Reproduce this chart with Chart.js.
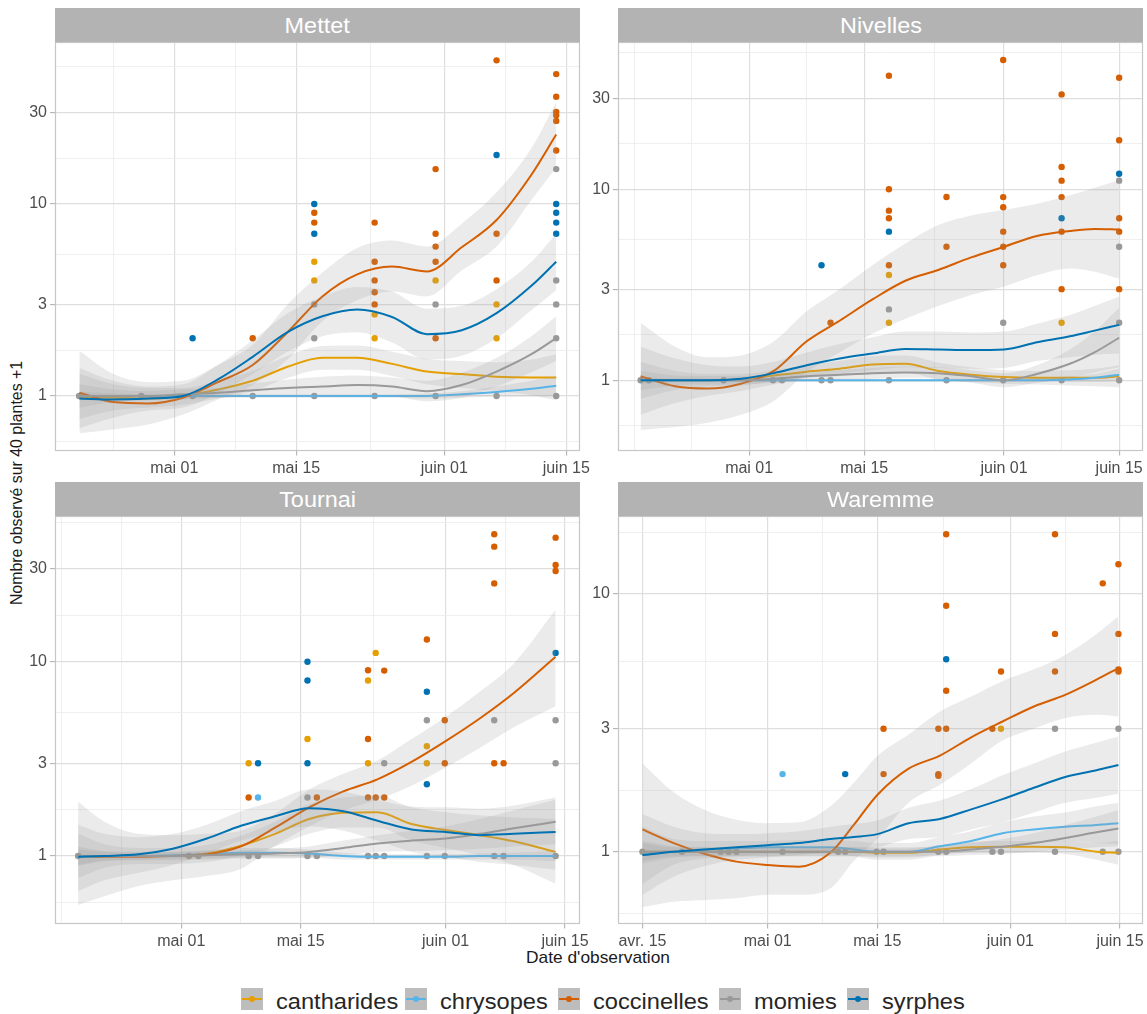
<!DOCTYPE html>
<html lang="fr">
<head>
<meta charset="utf-8">
<title>Nombre observé sur 40 plantes</title>
<script src="https://cdn.jsdelivr.net/npm/chart.js@4.4.1/dist/chart.umd.min.js"></script>
<style>
html,body{margin:0;padding:0;background:#fff;}
body{width:1147px;height:1014px;position:relative;overflow:hidden;font-family:"Liberation Sans",Arial,Helvetica,sans-serif;}
canvas{position:absolute;}
.strip{position:absolute;background:#B3B3B3;color:#fff;text-align:center;font-size:21.7px;line-height:34px;height:34px;}
.strip span{display:inline-block;position:relative;top:1px;transform:scaleX(1.08);}
#ytitle{position:absolute;left:17px;top:483px;transform:translate(-50%,-50%) rotate(-90deg);white-space:nowrap;font-size:15.9px;color:#1a1a1a;}
#xtitle{position:absolute;left:598px;top:958px;transform:translate(-50%,-50%) scaleX(1.09);white-space:nowrap;font-size:15.9px;color:#1a1a1a;}
.key{position:absolute;top:988px;width:22px;height:22px;background:#BDBDBD;}
.key .ln{position:absolute;left:1px;right:1px;top:10px;height:2px;}
.key .pt{position:absolute;left:8px;top:8px;width:6px;height:6px;border-radius:50%;}
.lbl{position:absolute;top:991px;line-height:22px;font-size:21.7px;color:#262626;white-space:nowrap;transform:scaleX(1.09);transform-origin:left center;}
</style>
</head>
<body>
<div id="ytitle">Nombre observé sur 40 plantes +1</div>
<div id="xtitle">Date d'observation</div>
<script>
// ---------------- categories / ticks ----------------
const panels = ['Mettet', 'Nivelles', 'Tournai', 'Waremme'];
const series = ['cantharides', 'chrysopes', 'coccinelles', 'momies', 'syrphes'];
// x values are days counted from 31 March (avr. 15 = 15, mai 01 = 31, ...)
const xTickDays = [15, 31, 45, 62, 76];
const xTickLabels = ['avr. 15', 'mai 01', 'mai 15', 'juin 01', 'juin 15'];
const yTickValues = [1, 3, 10, 30];
const yTickLabels = ['1', '3', '10', '30'];

// ---------------- observed points [day, count+1] ----------------
const pts_Mettet_cantharides = [[47.07,5],[47.07,4],[54,2.66],[54,2],[61,4],[68,3],[68,2]];
const pts_Mettet_chrysopes = [];
const pts_Mettet_coccinelles = [[40,2],[47.07,9],[47.07,8],[54,8],[54,5],[54,4],[54,3.47],[54,3],[61,15.2],[61,7],[61,6],[61,5],[61,2],[68,56],[68,7],[68,4],[74.85,47.5],[74.85,36.2],[74.85,30.2],[74.85,29],[74.85,27.1],[74.85,19]];
const pts_Mettet_momies = [[20.07,1],[27.2,1],[33.1,1],[40,1],[47.07,3],[47.07,2],[47.07,1],[54,1],[61,3],[61,1],[68,1],[74.85,15.2],[74.85,4],[74.85,3],[74.85,2],[74.85,1]];
const pts_Mettet_syrphes = [[33.1,2],[47.07,10],[47.07,7],[68,18],[74.85,10],[74.85,9],[74.85,8],[74.85,7]];

const pts_Nivelles_cantharides = [[48,3.56],[48,2],[69,2]];
const pts_Nivelles_chrysopes = [];
const pts_Nivelles_coccinelles = [[40.9,2],[48,39.3],[48,10],[48,7.73],[48,7.05],[48,4],[55,9.12],[55,5],[61.9,47.5],[61.9,9.1],[61.9,8.05],[61.9,6],[61.9,5],[61.9,4],[69,31.4],[69,13.1],[69,11.1],[69,9.1],[69,6],[69,3],[76,38.4],[76,18.05],[76,7.05],[76,6],[76,3]];
const pts_Nivelles_momies = [[17.8,1],[18.8,1],[27.9,1],[33.9,1],[35,1],[39.8,1],[40.9,1],[48,2.35],[48,1],[55,1],[61.9,2],[61.9,1],[69,1],[76,11.1],[76,5],[76,2],[76,1]];
const pts_Nivelles_syrphes = [[39.8,4],[48,6],[69,7.05],[76,12.07]];

const pts_Tournai_cantharides = [[38.9,3],[45.8,4],[52.9,8],[52.9,3],[53.8,11.1],[59.8,3.67],[59.8,3]];
const pts_Tournai_chrysopes = [[40,2]];
const pts_Tournai_coccinelles = [[38.9,2],[46.9,2],[52.9,9.03],[52.9,4],[52.9,2],[53.8,2],[54.8,9],[54.8,2],[59.8,13],[61.9,5],[61.9,3],[67.7,45.3],[67.7,39.1],[67.7,25.3],[67.7,3],[68.8,3],[74.9,43.5],[74.9,31.5],[74.9,29.3]];
const pts_Tournai_momies = [[18.9,1],[31.9,1],[33,1],[38.9,1],[40,1],[45.8,2],[45.8,1],[46.9,1],[52.9,1],[53.8,1],[54.8,3],[54.8,1],[59.8,5],[59.8,1],[61.9,1],[67.7,5],[67.7,1],[68.8,1],[74.9,5],[74.9,3],[74.9,1]];
const pts_Tournai_syrphes = [[40,3],[45.8,10],[45.8,8],[45.8,3],[59.8,7],[59.8,2.34],[74.9,11.1]];

const pts_Waremme_cantharides = [[60.8,3]];
const pts_Waremme_chrysopes = [[32.9,2]];
const pts_Waremme_coccinelles = [[45.8,3],[45.8,2],[52.8,3],[52.8,2],[52.8,1.97],[53.8,17.05],[53.8,9],[53.8,4.21],[53.8,3],[59.7,3],[60.8,5],[67.7,17.05],[67.7,7],[67.7,5],[73.8,11],[75.8,13.04],[75.8,7],[75.8,5.1],[75.8,5]];
const pts_Waremme_momies = [[15,1],[20.05,1],[25,1],[26,1],[27,1],[32.9,1],[40,1],[40.9,1],[44.9,1],[45.8,1],[52.8,1],[53.8,1],[59.7,1],[60.8,1],[67.7,3],[67.7,1],[73.8,1],[75.8,3],[75.8,1]];
const pts_Waremme_syrphes = [[40.9,2],[53.8,5.58]];

// ---------------- smoothed curves (fit, lower, upper) ----------------
const fitDays_Mettet = [20.1, 24, 28, 32, 36, 40, 44, 48, 52, 56, 60, 64, 68, 72, 74.85];
const fit_Mettet_coccinelles = [1.04, 0.93, 0.915, 0.98, 1.18, 1.45, 2.15, 3.3, 4.3, 4.72, 4.45, 5.95, 8.25, 14.2, 23];
const hi_Mettet_coccinelles  = [1.72, 1.3, 1.18, 1.2, 1.45, 1.85, 3.0, 4.4, 5.9, 6.45, 6.0, 7.9, 11.5, 19.5, 34];
const lo_Mettet_coccinelles  = [0.64, 0.67, 0.71, 0.8, 0.96, 1.14, 1.55, 2.45, 3.15, 3.5, 3.3, 4.5, 6.0, 10.5, 15.5];
const fit_Mettet_syrphes = [0.97, 0.96, 0.97, 1.0, 1.22, 1.6, 2.15, 2.6, 2.82, 2.58, 2.1, 2.2, 2.7, 3.75, 5.0];
const hi_Mettet_syrphes  = [1.4, 1.2, 1.12, 1.15, 1.45, 1.95, 2.7, 3.3, 3.7, 3.5, 2.85, 2.95, 3.6, 5.0, 7.0];
const lo_Mettet_syrphes  = [0.68, 0.77, 0.84, 0.87, 1.03, 1.3, 1.7, 2.05, 2.15, 1.9, 1.55, 1.62, 2.0, 2.8, 3.55];
const fit_Mettet_cantharides = [0.99, 0.98, 0.97, 1.0, 1.08, 1.2, 1.42, 1.58, 1.58, 1.47, 1.34, 1.3, 1.26, 1.25, 1.25];
const hi_Mettet_cantharides  = [1.3, 1.15, 1.1, 1.1, 1.2, 1.35, 1.62, 1.82, 1.83, 1.7, 1.56, 1.52, 1.5, 1.55, 1.65];
const lo_Mettet_cantharides  = [0.76, 0.84, 0.87, 0.9, 0.97, 1.06, 1.24, 1.37, 1.37, 1.27, 1.15, 1.1, 1.06, 1.01, 0.95];
const fit_Mettet_momies = [1.0, 1.0, 1.0, 1.02, 1.04, 1.07, 1.1, 1.12, 1.14, 1.12, 1.06, 1.14, 1.34, 1.65, 2.0];
const hi_Mettet_momies  = [1.15, 1.08, 1.06, 1.08, 1.1, 1.16, 1.22, 1.26, 1.28, 1.25, 1.2, 1.32, 1.58, 2.05, 2.6];
const lo_Mettet_momies  = [0.87, 0.93, 0.95, 0.96, 0.98, 0.99, 1.0, 1.0, 1.01, 1.0, 0.94, 0.98, 1.12, 1.33, 1.52];
const fit_Mettet_chrysopes = [1.0, 1.0, 1.0, 1.0, 1.0, 1.0, 1.0, 1.0, 1.0, 1.0, 1.0, 1.02, 1.05, 1.09, 1.13];
const hi_Mettet_chrysopes  = [1.05, 1.03, 1.02, 1.02, 1.02, 1.02, 1.02, 1.02, 1.02, 1.02, 1.03, 1.06, 1.12, 1.2, 1.27];
const lo_Mettet_chrysopes  = [0.95, 0.97, 0.98, 0.98, 0.98, 0.98, 0.98, 0.98, 0.98, 0.98, 0.97, 0.98, 0.99, 0.99, 1.0];

const fitDays_Nivelles = [17.8, 22, 26, 30, 34, 38, 42, 46, 50, 54, 58, 62, 66, 70, 73, 76];
const fit_Nivelles_coccinelles = [1.05, 0.93, 0.905, 0.96, 1.12, 1.6, 2.05, 2.65, 3.32, 3.78, 4.4, 5.0, 5.7, 6.05, 6.2, 6.15];
const hi_Nivelles_coccinelles  = [2.0, 1.5, 1.32, 1.35, 1.6, 2.3, 3.0, 4.0, 5.2, 6.5, 7.3, 7.8, 8.4, 9.3, 10.2, 11.2];
const lo_Nivelles_coccinelles  = [0.55, 0.57, 0.6, 0.66, 0.78, 1.1, 1.4, 1.75, 2.1, 2.45, 2.8, 3.1, 3.55, 3.85, 3.7, 3.4];
const fit_Nivelles_syrphes = [1.0, 1.0, 1.0, 1.02, 1.09, 1.2, 1.3, 1.38, 1.46, 1.45, 1.44, 1.45, 1.58, 1.7, 1.82, 1.95];
const hi_Nivelles_syrphes  = [1.5, 1.3, 1.2, 1.18, 1.25, 1.4, 1.55, 1.68, 1.8, 1.8, 1.78, 1.8, 1.98, 2.2, 2.45, 2.75];
const lo_Nivelles_syrphes  = [0.66, 0.76, 0.83, 0.88, 0.95, 1.03, 1.09, 1.13, 1.17, 1.16, 1.15, 1.16, 1.26, 1.32, 1.36, 1.38];
const fit_Nivelles_cantharides = [1.0, 1.0, 1.0, 1.01, 1.06, 1.11, 1.15, 1.21, 1.22, 1.12, 1.07, 1.04, 1.03, 1.03, 1.03, 1.05];
const hi_Nivelles_cantharides  = [1.25, 1.12, 1.08, 1.08, 1.13, 1.2, 1.26, 1.34, 1.35, 1.24, 1.17, 1.13, 1.12, 1.13, 1.15, 1.2];
const lo_Nivelles_cantharides  = [0.8, 0.89, 0.93, 0.94, 0.99, 1.03, 1.05, 1.09, 1.1, 1.01, 0.98, 0.96, 0.95, 0.94, 0.93, 0.92];
const fit_Nivelles_momies = [1.0, 1.0, 1.0, 1.0, 1.02, 1.05, 1.07, 1.09, 1.1, 1.09, 1.05, 1.0, 1.08, 1.22, 1.4, 1.67];
const hi_Nivelles_momies  = [1.12, 1.06, 1.05, 1.05, 1.07, 1.1, 1.13, 1.16, 1.18, 1.17, 1.13, 1.09, 1.2, 1.45, 1.8, 2.4];
const lo_Nivelles_momies  = [0.89, 0.94, 0.95, 0.95, 0.97, 1.0, 1.01, 1.02, 1.03, 1.02, 0.97, 0.92, 0.97, 1.03, 1.1, 1.17];
const fit_Nivelles_chrysopes = [1.0, 1.0, 1.0, 1.0, 1.0, 1.0, 1.0, 1.0, 1.0, 1.0, 1.0, 1.0, 1.0, 1.01, 1.03, 1.07];
const hi_Nivelles_chrysopes  = [1.04, 1.02, 1.02, 1.02, 1.02, 1.02, 1.02, 1.02, 1.02, 1.02, 1.02, 1.02, 1.03, 1.05, 1.08, 1.15];
const lo_Nivelles_chrysopes  = [0.96, 0.98, 0.98, 0.98, 0.98, 0.98, 0.98, 0.98, 0.98, 0.98, 0.98, 0.98, 0.98, 0.98, 0.98, 0.99];

const fitDays_Tournai = [18.9, 22, 26, 30, 34, 38, 42, 46, 50, 54, 58, 62, 66, 70, 74.9];
const fit_Tournai_coccinelles = [1.0, 0.99, 0.99, 1.0, 1.02, 1.12, 1.4, 1.78, 2.15, 2.48, 3.05, 3.9, 5.1, 6.9, 10.6];
const hi_Tournai_coccinelles  = [1.9, 1.5, 1.3, 1.28, 1.3, 1.35, 1.65, 2.2, 2.65, 3.1, 4.0, 5.2, 7.0, 9.8, 18.5];
const lo_Tournai_coccinelles  = [0.56, 0.62, 0.7, 0.75, 0.79, 0.86, 1.13, 1.42, 1.72, 1.95, 2.3, 2.85, 3.6, 4.6, 5.9];
const fit_Tournai_syrphes = [0.99, 1.0, 1.02, 1.09, 1.23, 1.43, 1.6, 1.76, 1.7, 1.52, 1.37, 1.33, 1.28, 1.3, 1.33];
const hi_Tournai_syrphes  = [1.45, 1.3, 1.25, 1.3, 1.45, 1.7, 1.92, 2.2, 2.15, 1.95, 1.8, 1.78, 1.75, 1.82, 2.0];
const lo_Tournai_syrphes  = [0.66, 0.75, 0.82, 0.9, 1.03, 1.2, 1.33, 1.42, 1.35, 1.2, 1.05, 0.99, 0.93, 0.9, 0.85];
const fit_Tournai_cantharides = [1.0, 1.0, 1.0, 1.0, 1.03, 1.13, 1.3, 1.55, 1.67, 1.68, 1.46, 1.36, 1.28, 1.19, 1.05];
const hi_Tournai_cantharides  = [1.3, 1.15, 1.1, 1.1, 1.14, 1.27, 1.5, 1.85, 2.0, 2.05, 1.78, 1.68, 1.62, 1.58, 1.55];
const lo_Tournai_cantharides  = [0.77, 0.87, 0.91, 0.91, 0.93, 1.0, 1.12, 1.3, 1.4, 1.4, 1.2, 1.1, 1.01, 0.9, 0.72];
const fit_Tournai_momies = [1.0, 1.0, 1.0, 1.0, 1.01, 1.02, 1.03, 1.05, 1.1, 1.16, 1.2, 1.23, 1.3, 1.39, 1.5];
const hi_Tournai_momies  = [1.12, 1.06, 1.05, 1.05, 1.06, 1.07, 1.09, 1.12, 1.2, 1.28, 1.35, 1.42, 1.55, 1.72, 1.95];
const lo_Tournai_momies  = [0.89, 0.94, 0.95, 0.95, 0.96, 0.97, 0.97, 0.98, 1.01, 1.05, 1.06, 1.07, 1.09, 1.12, 1.15];
const fit_Tournai_chrysopes = [0.99, 1.0, 1.0, 1.01, 1.02, 1.04, 1.04, 1.03, 1.0, 0.99, 0.99, 0.99, 1.0, 1.0, 1.0];
const hi_Tournai_chrysopes  = [1.08, 1.05, 1.04, 1.05, 1.07, 1.1, 1.1, 1.08, 1.04, 1.02, 1.02, 1.02, 1.03, 1.04, 1.06];
const lo_Tournai_chrysopes  = [0.9, 0.95, 0.96, 0.97, 0.97, 0.98, 0.98, 0.98, 0.96, 0.96, 0.96, 0.96, 0.96, 0.96, 0.94];

const fitDays_Waremme = [15, 19, 23, 27, 31, 35, 39, 42, 45, 49, 53, 57, 61, 65, 69, 73, 75.8];
const fit_Waremme_coccinelles = [1.22, 1.08, 0.98, 0.915, 0.888, 0.875, 0.99, 1.27, 1.66, 2.1, 2.36, 2.78, 3.2, 3.66, 4.06, 4.65, 5.16];
const hi_Waremme_coccinelles  = [2.2, 1.7, 1.45, 1.33, 1.29, 1.3, 1.5, 1.85, 2.35, 2.85, 3.5, 4.0, 4.6, 5.1, 5.8, 7.0, 8.2];
const lo_Waremme_coccinelles  = [0.61, 0.64, 0.65, 0.66, 0.68, 0.68, 0.72, 0.92, 1.12, 1.55, 1.82, 2.2, 2.7, 3.0, 3.3, 3.4, 3.35];
const fit_Waremme_syrphes = [0.97, 1.0, 1.02, 1.04, 1.06, 1.08, 1.12, 1.14, 1.17, 1.29, 1.34, 1.46, 1.6, 1.77, 1.95, 2.07, 2.17];
const hi_Waremme_syrphes  = [1.4, 1.25, 1.18, 1.17, 1.18, 1.2, 1.25, 1.28, 1.32, 1.48, 1.58, 1.75, 1.98, 2.2, 2.45, 2.65, 2.8];
const lo_Waremme_syrphes  = [0.68, 0.8, 0.88, 0.93, 0.95, 0.97, 1.0, 1.02, 1.04, 1.12, 1.14, 1.22, 1.3, 1.42, 1.55, 1.62, 1.68];
const fit_Waremme_chrysopes = [0.975, 1.0, 1.02, 1.03, 1.04, 1.04, 1.04, 1.02, 1.0, 1.0, 1.05, 1.1, 1.18, 1.22, 1.25, 1.27, 1.29];
const hi_Waremme_chrysopes  = [1.25, 1.12, 1.1, 1.1, 1.1, 1.11, 1.11, 1.1, 1.08, 1.08, 1.14, 1.2, 1.3, 1.37, 1.42, 1.5, 1.55];
const lo_Waremme_chrysopes  = [0.75, 0.89, 0.94, 0.96, 0.98, 0.98, 0.98, 0.96, 0.93, 0.93, 0.97, 1.0, 1.06, 1.08, 1.1, 1.08, 1.07];
const fit_Waremme_cantharides = [1.0, 1.0, 1.0, 1.0, 1.0, 1.0, 1.0, 1.0, 0.99, 0.99, 1.02, 1.04, 1.045, 1.045, 1.04, 1.0, 0.99];
const hi_Waremme_cantharides  = [1.1, 1.05, 1.04, 1.04, 1.04, 1.04, 1.04, 1.04, 1.03, 1.03, 1.06, 1.09, 1.1, 1.1, 1.1, 1.08, 1.1];
const lo_Waremme_cantharides  = [0.9, 0.95, 0.96, 0.96, 0.96, 0.96, 0.96, 0.96, 0.95, 0.95, 0.98, 0.99, 0.99, 0.99, 0.98, 0.93, 0.89];
const fit_Waremme_momies = [1.0, 1.0, 1.0, 1.0, 1.0, 1.0, 1.0, 1.0, 1.0, 1.0, 1.0, 1.02, 1.045, 1.08, 1.13, 1.19, 1.23];
const hi_Waremme_momies  = [1.08, 1.04, 1.04, 1.04, 1.04, 1.04, 1.04, 1.04, 1.04, 1.04, 1.05, 1.08, 1.12, 1.18, 1.27, 1.37, 1.45];
const lo_Waremme_momies  = [0.92, 0.96, 0.96, 0.96, 0.96, 0.96, 0.96, 0.96, 0.96, 0.96, 0.96, 0.97, 0.98, 1.0, 1.02, 1.04, 1.05];

// ---------------- tables built from the arrays ----------------
const DATA = {
  Mettet: { days: fitDays_Mettet,
    pts: {cantharides: pts_Mettet_cantharides, chrysopes: pts_Mettet_chrysopes, coccinelles: pts_Mettet_coccinelles, momies: pts_Mettet_momies, syrphes: pts_Mettet_syrphes},
    fit: {cantharides: fit_Mettet_cantharides, chrysopes: fit_Mettet_chrysopes, coccinelles: fit_Mettet_coccinelles, momies: fit_Mettet_momies, syrphes: fit_Mettet_syrphes},
    lo:  {cantharides: lo_Mettet_cantharides, chrysopes: lo_Mettet_chrysopes, coccinelles: lo_Mettet_coccinelles, momies: lo_Mettet_momies, syrphes: lo_Mettet_syrphes},
    hi:  {cantharides: hi_Mettet_cantharides, chrysopes: hi_Mettet_chrysopes, coccinelles: hi_Mettet_coccinelles, momies: hi_Mettet_momies, syrphes: hi_Mettet_syrphes} },
  Nivelles: { days: fitDays_Nivelles,
    pts: {cantharides: pts_Nivelles_cantharides, chrysopes: pts_Nivelles_chrysopes, coccinelles: pts_Nivelles_coccinelles, momies: pts_Nivelles_momies, syrphes: pts_Nivelles_syrphes},
    fit: {cantharides: fit_Nivelles_cantharides, chrysopes: fit_Nivelles_chrysopes, coccinelles: fit_Nivelles_coccinelles, momies: fit_Nivelles_momies, syrphes: fit_Nivelles_syrphes},
    lo:  {cantharides: lo_Nivelles_cantharides, chrysopes: lo_Nivelles_chrysopes, coccinelles: lo_Nivelles_coccinelles, momies: lo_Nivelles_momies, syrphes: lo_Nivelles_syrphes},
    hi:  {cantharides: hi_Nivelles_cantharides, chrysopes: hi_Nivelles_chrysopes, coccinelles: hi_Nivelles_coccinelles, momies: hi_Nivelles_momies, syrphes: hi_Nivelles_syrphes} },
  Tournai: { days: fitDays_Tournai,
    pts: {cantharides: pts_Tournai_cantharides, chrysopes: pts_Tournai_chrysopes, coccinelles: pts_Tournai_coccinelles, momies: pts_Tournai_momies, syrphes: pts_Tournai_syrphes},
    fit: {cantharides: fit_Tournai_cantharides, chrysopes: fit_Tournai_chrysopes, coccinelles: fit_Tournai_coccinelles, momies: fit_Tournai_momies, syrphes: fit_Tournai_syrphes},
    lo:  {cantharides: lo_Tournai_cantharides, chrysopes: lo_Tournai_chrysopes, coccinelles: lo_Tournai_coccinelles, momies: lo_Tournai_momies, syrphes: lo_Tournai_syrphes},
    hi:  {cantharides: hi_Tournai_cantharides, chrysopes: hi_Tournai_chrysopes, coccinelles: hi_Tournai_coccinelles, momies: hi_Tournai_momies, syrphes: hi_Tournai_syrphes} },
  Waremme: { days: fitDays_Waremme,
    pts: {cantharides: pts_Waremme_cantharides, chrysopes: pts_Waremme_chrysopes, coccinelles: pts_Waremme_coccinelles, momies: pts_Waremme_momies, syrphes: pts_Waremme_syrphes},
    fit: {cantharides: fit_Waremme_cantharides, chrysopes: fit_Waremme_chrysopes, coccinelles: fit_Waremme_coccinelles, momies: fit_Waremme_momies, syrphes: fit_Waremme_syrphes},
    lo:  {cantharides: lo_Waremme_cantharides, chrysopes: lo_Waremme_chrysopes, coccinelles: lo_Waremme_coccinelles, momies: lo_Waremme_momies, syrphes: lo_Waremme_syrphes},
    hi:  {cantharides: hi_Waremme_cantharides, chrysopes: hi_Waremme_chrysopes, coccinelles: hi_Waremme_coccinelles, momies: hi_Waremme_momies, syrphes: hi_Waremme_syrphes} }
};

// ---------------- styles & layout ----------------
const COLORS = {cantharides:'#E69F00', chrysopes:'#56B4E9', coccinelles:'#D55E00', momies:'#999999', syrphes:'#0072B2'};
const RIBBON = 'rgba(153,153,153,0.2)';
const FONT = '"Liberation Sans", Arial, Helvetica, sans-serif';
const GEOM = {
  Mettet:   {L:55,  T:42,  R:580,  B:451, xmin:17.3,  xmax:77.58, ylo:-0.2865, yhi:1.8438, padR:28},
  Nivelles: {L:618, T:42,  R:1143, B:451, xmin:15.05, xmax:78.9,  ylo:-0.3702, yhi:1.7712, padR:4},
  Tournai:  {L:55,  T:516, R:580,  B:924, xmin:16.19, xmax:77.76, ylo:-0.350,  yhi:1.7499, padR:28},
  Waremme:  {L:618, T:516, R:1143, B:924, xmin:11.88, xmax:78.94, ylo:-0.2806, yhi:1.3027, padR:4}
};
const YAXW = 55, XAXH = 30;

function xGrid(min, max) {
  const b = xTickDays.filter(v => v >= min && v <= max);
  const ext = b.slice(); const bd = b[1] - b[0];
  if (min < b[0]) ext.unshift(b[0] - bd);
  if (max > b[b.length - 1]) ext.push(b[b.length - 1] + bd);
  const minor = [];
  for (let i = 0; i < ext.length - 1; i++) minor.push((ext[i] + ext[i + 1]) / 2);
  ext.forEach(v => { if (!b.includes(v)) minor.push(v); });
  return {major: b, minor: minor.filter(v => v > min && v < max)};
}
function yGrid(min, max) {
  const b = yTickValues.filter(v => v >= min && v <= max).map(Math.log10);
  const ext = b.slice(); const bd = b[1] - b[0];
  const lmin = Math.log10(min), lmax = Math.log10(max);
  if (lmin < b[0]) ext.unshift(b[0] - bd);
  if (lmax > b[b.length - 1]) ext.push(b[b.length - 1] + bd);
  const minor = [];
  for (let i = 0; i < ext.length - 1; i++) minor.push((ext[i] + ext[i + 1]) / 2);
  return {major: yTickValues.filter(v => v >= min && v <= max), minor: minor.filter(v => v > lmin && v < lmax).map(v => Math.pow(10, v))};
}

const framePlugin = {
  id: 'panelFrame',
  afterDraw(chart) {
    const a = chart.chartArea, ctx = chart.ctx;
    ctx.save(); ctx.strokeStyle = '#C6C6C6'; ctx.lineWidth = 1.2;
    ctx.strokeRect(a.left + 0.5, a.top + 0.5, a.right - a.left - 1, a.bottom - a.top - 1);
    ctx.restore();
  }
};

function buildDatasets(name) {
  const D = DATA[name]; const ds = [];
  // points: drawn first (under the ribbons)
  series.forEach(s => {
    ds.push({ data: D.pts[s].map(p => ({x: p[0], y: p[1]})), showLine: false,
      pointRadius: 3.2, pointHoverRadius: 3.2, pointBorderWidth: 0,
      pointBackgroundColor: COLORS[s], borderColor: COLORS[s], backgroundColor: COLORS[s], order: 100 });
  });
  // ribbons + lines, one group after another
  series.forEach((s, k) => {
    ds.push({ data: D.days.map((d, i) => ({x: d, y: D.hi[s][i]})), borderWidth: 0, borderColor: 'rgba(0,0,0,0)',
      pointRadius: 0, fill: '+1', backgroundColor: RIBBON, cubicInterpolationMode: 'monotone', order: 20 - 2 * k });
    ds.push({ data: D.days.map((d, i) => ({x: d, y: D.lo[s][i]})), borderWidth: 0, borderColor: 'rgba(0,0,0,0)',
      pointRadius: 0, fill: false, cubicInterpolationMode: 'monotone', order: 20 - 2 * k });
    ds.push({ data: D.days.map((d, i) => ({x: d, y: D.fit[s][i]})), borderColor: COLORS[s], borderWidth: 2,
      pointRadius: 0, fill: false, cubicInterpolationMode: 'monotone', order: 19 - 2 * k });
  });
  return ds;
}

function makePanel(name) {
  const g = GEOM[name];
  const strip = document.createElement('div');
  strip.className = 'strip';
  strip.style.left = g.L + 'px'; strip.style.top = (g.T - 34) + 'px'; strip.style.width = (g.R - g.L) + 'px';
  const sp = document.createElement('span'); sp.textContent = name; strip.appendChild(sp);
  document.body.appendChild(strip);

  const W = (g.R - g.L) + YAXW + g.padR, H = (g.B - g.T) + XAXH;
  const cv = document.createElement('canvas');
  cv.width = W; cv.height = H;
  cv.style.left = (g.L - YAXW) + 'px'; cv.style.top = g.T + 'px';
  cv.style.width = W + 'px'; cv.style.height = H + 'px';
  document.body.appendChild(cv);

  const ymin = Math.pow(10, g.ylo), ymax = Math.pow(10, g.yhi);
  const xg = xGrid(g.xmin, g.xmax), yg = yGrid(ymin, ymax);
  const xMaj = new Set(xg.major), yMaj = new Set(yg.major);
  const isMajX = c => c.tick && xMaj.has(c.tick.value);
  const isMajY = c => c.tick && yMaj.has(c.tick.value);

  new Chart(cv.getContext('2d'), {
    type: 'line',
    data: { datasets: buildDatasets(name) },
    options: {
      responsive: false, animation: false, devicePixelRatio: 1, events: [],
      layout: { padding: {left: 0, right: g.padR, top: 0, bottom: 0}, autoPadding: false },
      plugins: { legend: {display: false}, tooltip: {enabled: false}, filler: {propagate: false} },
      scales: {
        x: {
          type: 'linear', min: g.xmin, max: g.xmax, bounds: 'data',
          afterBuildTicks: s => { s.ticks = xg.major.concat(xg.minor).sort((a, b) => a - b).map(v => ({value: v})); },
          afterFit: s => { s.height = XAXH; s.paddingLeft = 0; s.paddingRight = 0; },
          ticks: { autoSkip: false, maxRotation: 0, minRotation: 0, padding: 3, color: '#4D4D4D',
            font: {family: FONT, size: 16},
            callback: v => xMaj.has(v) ? xTickLabels[xTickDays.indexOf(v)] : '' },
          grid: { color: c => isMajX(c) ? '#DEDEDE' : '#EDEDED', lineWidth: c => isMajX(c) ? 1.2 : 0.9,
            drawTicks: true, tickLength: 4.5, tickWidth: 1.1,
            tickColor: c => isMajX(c) ? '#B3B3B3' : 'rgba(0,0,0,0)' },
          border: { display: false }
        },
        y: {
          type: 'logarithmic', min: ymin, max: ymax, bounds: 'data',
          afterBuildTicks: s => { s.ticks = yg.major.concat(yg.minor).sort((a, b) => a - b).map(v => ({value: v})); },
          afterFit: s => { s.width = YAXW; s.paddingTop = 0; s.paddingBottom = 0; },
          ticks: { autoSkip: false, padding: 3, color: '#4D4D4D', font: {family: FONT, size: 16},
            callback: v => yMaj.has(v) ? yTickLabels[yTickValues.indexOf(v)] : '' },
          grid: { color: c => isMajY(c) ? '#DEDEDE' : '#EDEDED', lineWidth: c => isMajY(c) ? 1.2 : 0.9,
            drawTicks: true, tickLength: 5, tickWidth: 1.1,
            tickColor: c => isMajY(c) ? '#B3B3B3' : 'rgba(0,0,0,0)' },
          border: { display: false }
        }
      }
    },
    plugins: [framePlugin]
  });
}

panels.forEach(makePanel);

// ---------------- legend ----------------
const legendKeyLeft = [241, 405, 558, 719, 847];
series.forEach((s, i) => {
  const key = document.createElement('div'); key.className = 'key'; key.style.left = legendKeyLeft[i] + 'px';
  const ln = document.createElement('div'); ln.className = 'ln'; ln.style.background = COLORS[s];
  const pt = document.createElement('div'); pt.className = 'pt'; pt.style.background = COLORS[s];
  key.appendChild(ln); key.appendChild(pt); document.body.appendChild(key);
  const lb = document.createElement('div'); lb.className = 'lbl'; lb.style.left = (legendKeyLeft[i] + 35) + 'px';
  lb.textContent = s; document.body.appendChild(lb);
});
</script>
</body>
</html>
